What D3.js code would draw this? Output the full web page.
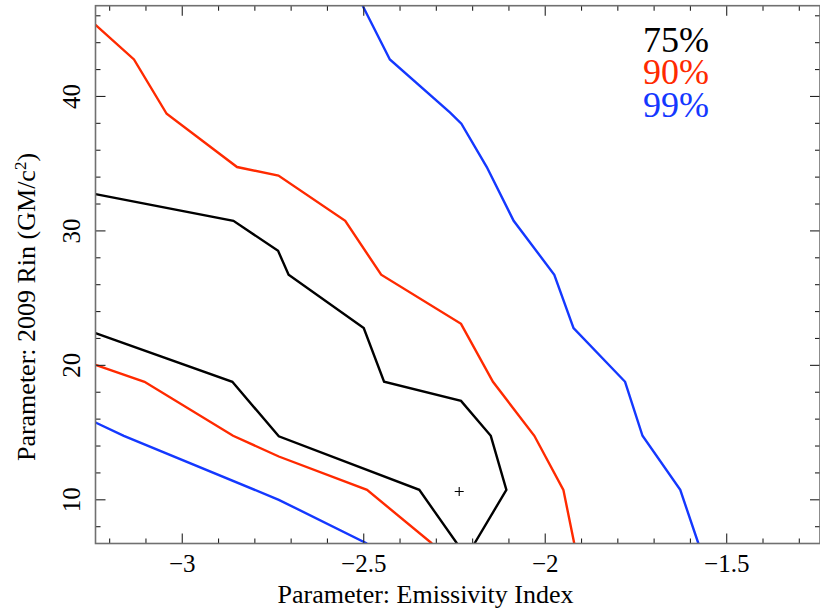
<!DOCTYPE html>
<html>
<head>
<meta charset="utf-8">
<script src="https://cdn.jsdelivr.net/npm/d3@7"></script>
<style>
  html, body { margin: 0; padding: 0; background: #fff; }
  svg { display: block; }
  text { font-family: "Liberation Serif", "Times New Roman", serif; }
</style>
</head>
<body>
<svg id="chart" width="820" height="609"></svg>
<script>
// Confidence contours: emissivity index vs. 2009 inner radius (GM/c^2)
const levels = ["75%", "90%", "99%"];
const levelColors = ["#000000", "#ff2a00", "#1438ff"];

// Each level is drawn as two open branches clipped by the plot frame
const c75Upper = [
  [-3.239, 32.74], [-2.859, 30.75], [-2.736, 28.52], [-2.707, 26.74],
  [-2.500, 22.77], [-2.444, 18.78], [-2.232, 17.36], [-2.150, 14.76],
  [-2.107, 10.74], [-2.195, 6.75]
];
const c75Lower = [
  [-3.239, 22.40], [-2.862, 18.78], [-2.734, 14.72], [-2.347, 10.74],
  [-2.243, 6.75]
];
const c90Upper = [
  [-3.239, 45.33], [-3.133, 42.75], [-3.043, 38.71], [-2.849, 34.75],
  [-2.735, 34.12], [-2.551, 30.75], [-2.452, 26.74], [-2.232, 23.09],
  [-2.144, 18.78], [-2.030, 14.76], [-1.950, 10.74], [-1.920, 6.75]
];
const c90Lower = [
  [-3.239, 20.04], [-3.104, 18.78], [-2.860, 14.76], [-2.734, 13.22],
  [-2.491, 10.74], [-2.312, 6.75]
];
const c99Upper = [
  [-2.503, 46.75], [-2.428, 42.75], [-2.262, 38.80], [-2.231, 37.97],
  [-2.161, 34.75], [-2.087, 30.75], [-1.975, 26.74], [-1.922, 22.77],
  [-1.780, 18.78], [-1.732, 14.76], [-1.628, 10.74], [-1.578, 6.75]
];
const c99Lower = [
  [-3.239, 15.75], [-3.161, 14.76], [-2.734, 10.00], [-2.491, 6.75]
];
const bestFit = [-2.237, 10.62];

const xTicks = [-3, -2.5, -2, -1.5];
const yTicks = [10, 20, 30, 40];

const contours = [
  { level: 0, pts: c75Upper }, { level: 0, pts: c75Lower },
  { level: 1, pts: c90Upper }, { level: 1, pts: c90Lower },
  { level: 2, pts: c99Upper }, { level: 2, pts: c99Lower }
];

const svg = d3.select("#chart");
const frame = { left: 95.5, right: 820, top: 5.7, bottom: 543.5 };

const x = d3.scaleLinear().domain([-3.239, -1.243]).range([frame.left, frame.right]);
const y = d3.scaleLinear().domain([6.75, 46.75]).range([frame.bottom, frame.top]);

svg.append("defs").append("clipPath").attr("id", "plotClip")
  .append("rect")
  .attr("x", frame.left).attr("y", frame.top)
  .attr("width", frame.right - frame.left).attr("height", frame.bottom - frame.top);

// Contour lines
const line = d3.line().x(d => x(d[0])).y(d => y(d[1]));
svg.append("g").attr("clip-path", "url(#plotClip)")
  .selectAll("path").data(contours).join("path")
  .attr("d", d => line(d.pts))
  .attr("fill", "none")
  .attr("stroke", d => levelColors[d.level])
  .attr("stroke-width", 2.4)
  .attr("stroke-linejoin", "miter");

// Best-fit marker
const bx = x(bestFit[0]), by = y(bestFit[1]);
svg.append("path")
  .attr("d", `M${bx - 4.5},${by}H${bx + 4.5}M${bx},${by - 4.5}V${by + 4.5}`)
  .attr("stroke", "#000").attr("stroke-width", 1.1);

// Ticks on all four sides, pointing inward
const majorLen = 10, minorLen = 5;
const xMinor = d3.range(-3.2, -1.2, 0.1).map(v => +v.toFixed(2));
const yMinor = d3.range(8, 47, 2);
const tickG = svg.append("g").attr("stroke", "#222").attr("stroke-width", 1.1);

function isMajor(v, list) { return list.some(t => Math.abs(t - v) < 1e-6); }

xMinor.forEach(v => {
  const len = isMajor(v, xTicks) ? majorLen : minorLen;
  const px = x(v);
  tickG.append("line").attr("x1", px).attr("x2", px)
    .attr("y1", frame.bottom).attr("y2", frame.bottom - len);
  tickG.append("line").attr("x1", px).attr("x2", px)
    .attr("y1", frame.top).attr("y2", frame.top + len);
});
yMinor.forEach(v => {
  const len = isMajor(v, yTicks) ? majorLen : minorLen;
  const py = y(v);
  tickG.append("line").attr("y1", py).attr("y2", py)
    .attr("x1", frame.left).attr("x2", frame.left + len);
  tickG.append("line").attr("y1", py).attr("y2", py)
    .attr("x1", frame.right).attr("x2", frame.right - len);
});

// Frame
svg.append("rect")
  .attr("x", frame.left).attr("y", frame.top)
  .attr("width", frame.right - frame.left).attr("height", frame.bottom - frame.top)
  .attr("fill", "none").attr("stroke", "#707070").attr("stroke-width", 1.6);

// Tick labels
const fmt = v => String(v).replace("-", "\u2212");
svg.append("g").selectAll("text").data(xTicks).join("text")
  .attr("x", d => x(d)).attr("y", 572)
  .attr("text-anchor", "middle")
  .attr("font-size", 25)
  .text(fmt);

svg.append("g").selectAll("text").data(yTicks).join("text")
  .attr("transform", d => `translate(80,${y(d)}) rotate(-90)`)
  .attr("text-anchor", "middle")
  .attr("font-size", 25)
  .text(fmt);

// Axis titles
svg.append("text")
  .attr("x", 425.5).attr("y", 603)
  .attr("text-anchor", "middle")
  .attr("font-size", 26)
  .text("Parameter: Emissivity Index");

const yTitle = svg.append("text")
  .attr("transform", "translate(35,307) rotate(-90)")
  .attr("text-anchor", "middle")
  .attr("font-size", 26);
yTitle.append("tspan").text("Parameter: 2009 Rin (GM/c");
yTitle.append("tspan").attr("dy", -9).attr("font-size", 17).text("2");
yTitle.append("tspan").attr("dy", 9).text(")");

// Level legend
svg.append("g").selectAll("text").data(levels).join("text")
  .attr("x", 643).attr("y", (d, i) => 51.5 + i * 32.8)
  .attr("font-size", 36)
  .attr("fill", (d, i) => levelColors[i])
  .text(d => d);
</script>
</body>
</html>
